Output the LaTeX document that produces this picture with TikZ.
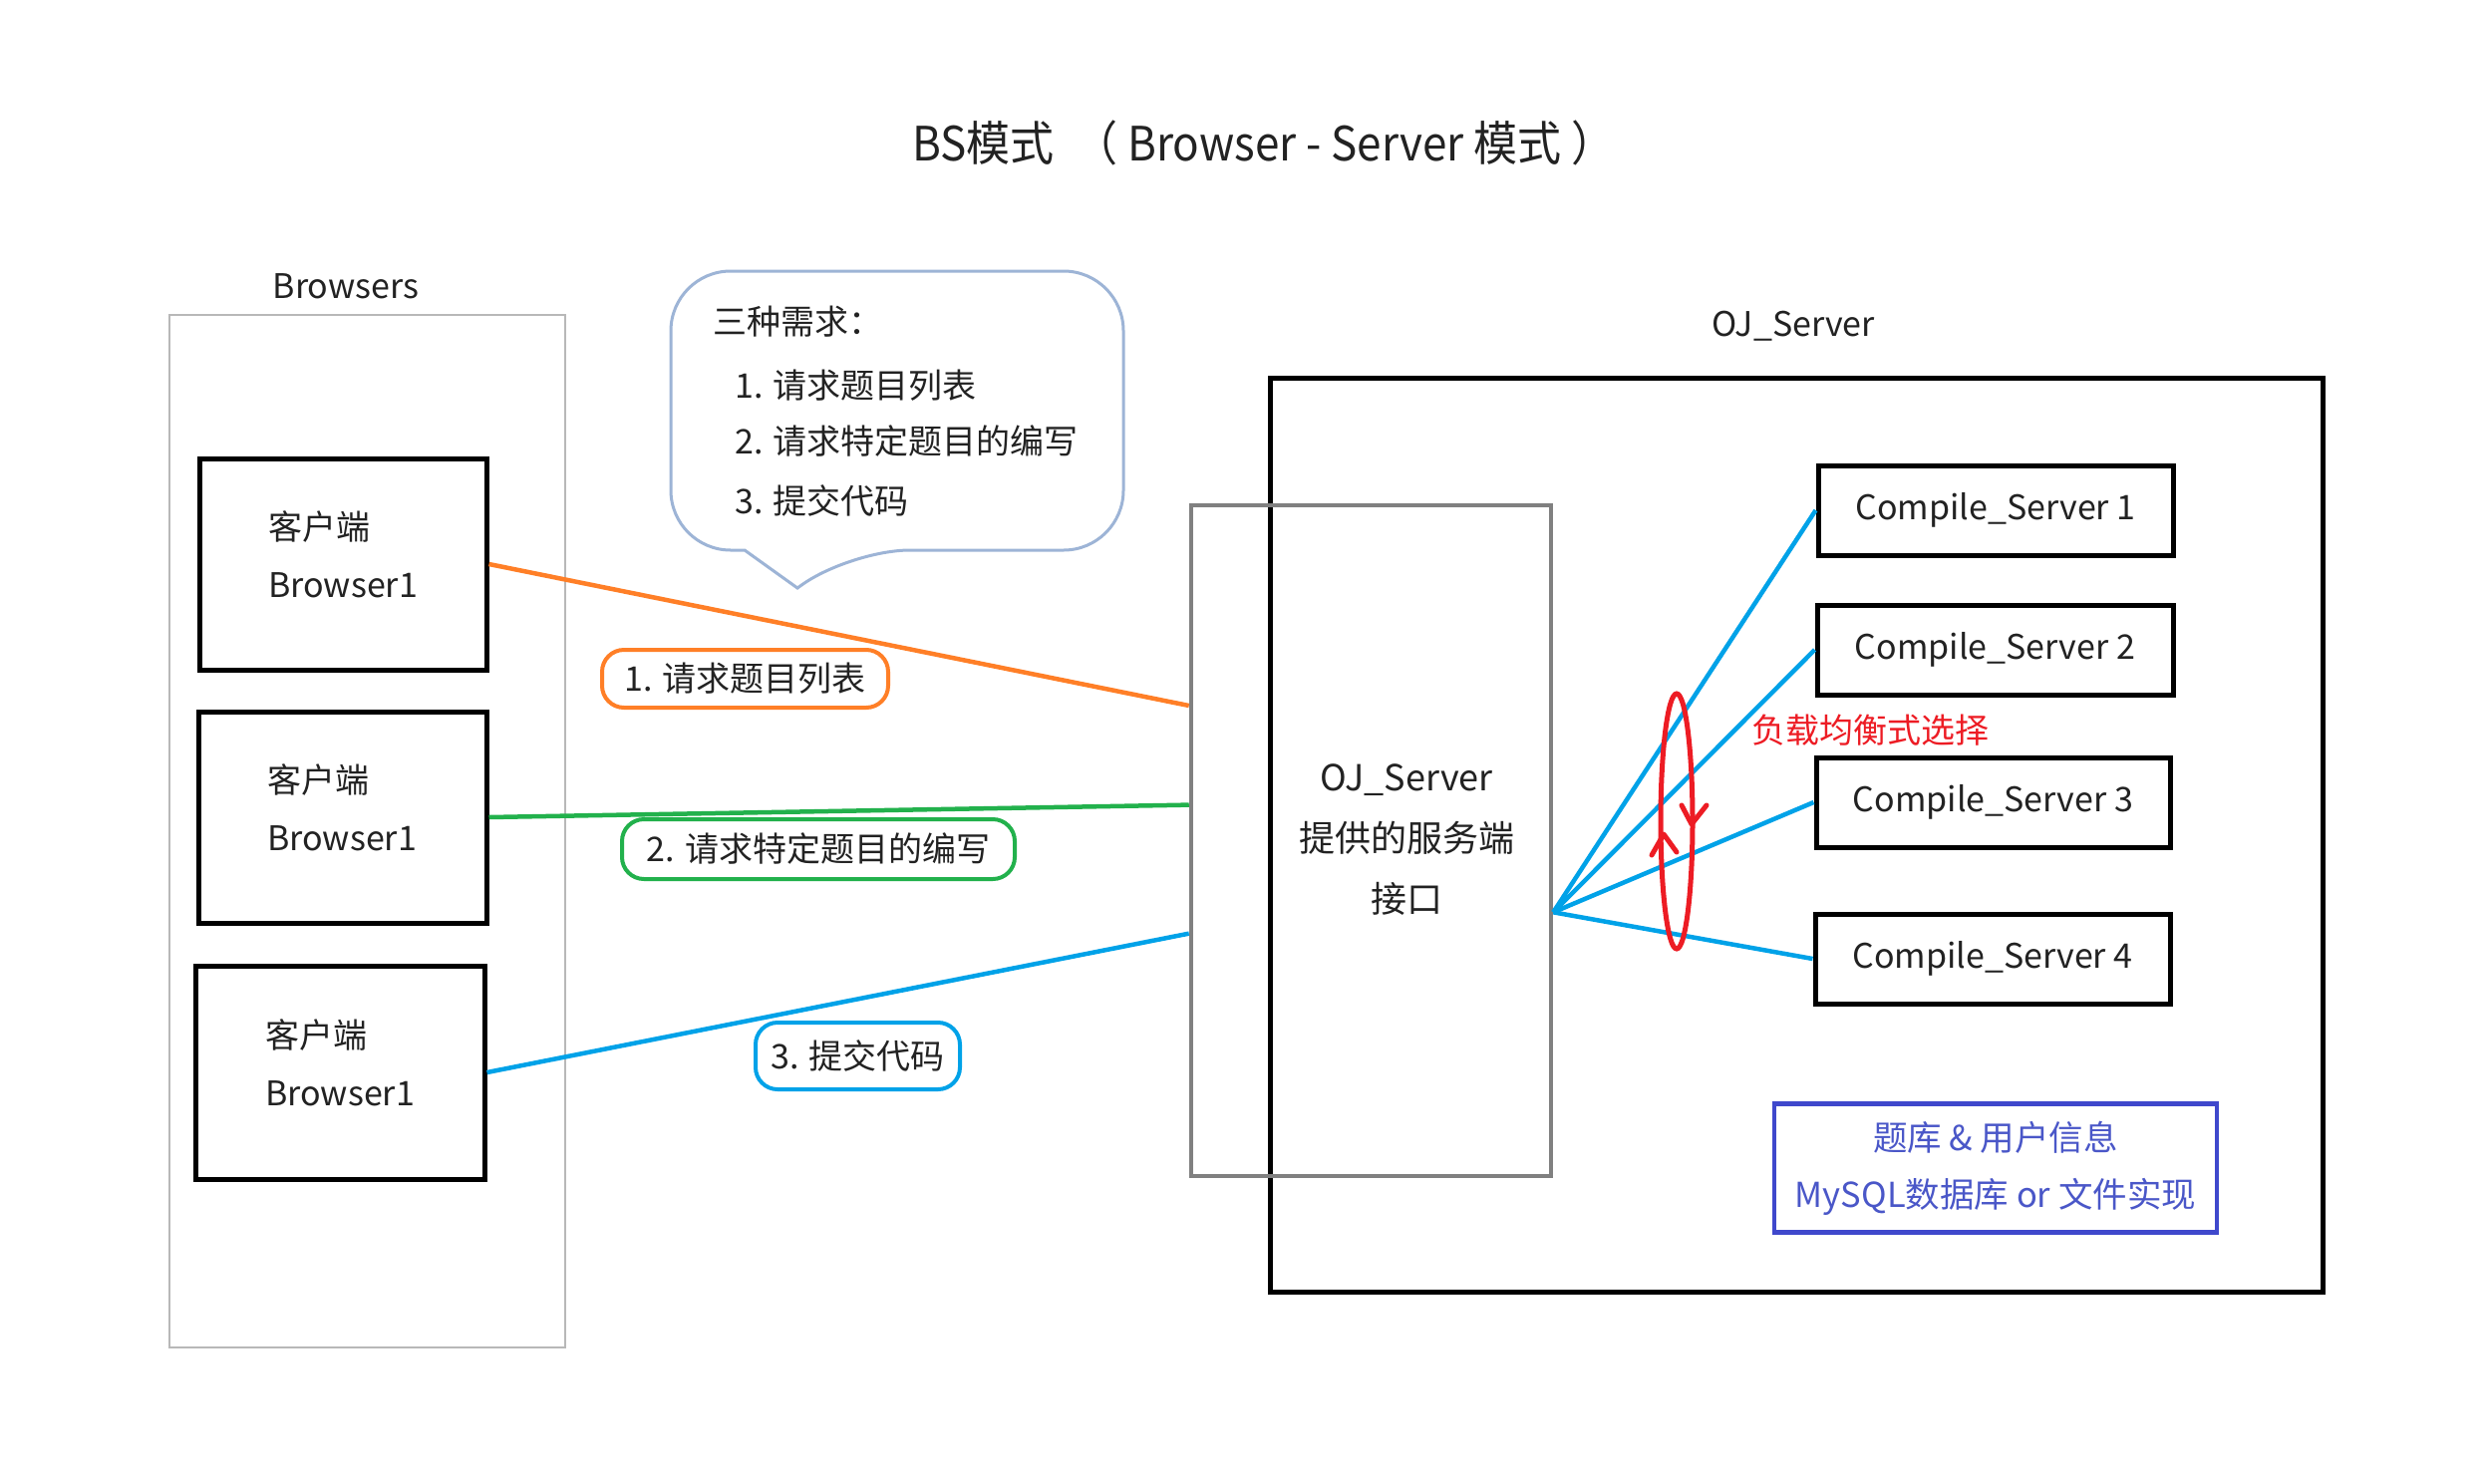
\documentclass[tikz,border=0pt]{standalone}
\usepackage{fontspec}
\setmainfont{Noto Sans CJK SC}
\usetikzlibrary{calc,shapes.geometric}
\definecolor{txtgray}{HTML}{222222}
\definecolor{lorange}{HTML}{FF7F27}
\definecolor{lgreen}{HTML}{22B14C}
\definecolor{lblue}{HTML}{00A2E8}
\definecolor{lred}{HTML}{ED1C24}
\definecolor{dbblue}{HTML}{3F48CC}
\definecolor{dbtext}{HTML}{4A57C8}
\definecolor{bubble}{HTML}{9DB4D6}
\definecolor{ojgray}{HTML}{808080}
\definecolor{brgray}{HTML}{B8B8B8}
\begin{document}
\begin{tikzpicture}[x=1pt,y=-1pt,
  bbox/.style={draw=black, line width=5pt, inner sep=0pt},
  txt/.style={font=\fontsize{34pt}{58pt}\selectfont, text=txtgray, inner sep=0pt},
  lbl/.style={line width=4pt, rounded corners=22pt, inner sep=0pt,
     font=\fontsize{34pt}{40pt}\selectfont, text=txtgray},
  conn/.style={line width=4.5pt}]
\fill[white] (0,0) rectangle (2499,1488);
\useasboundingbox (0,0) rectangle (2499,1488);

% title
\node[font=\fontsize{44pt}{50pt}\selectfont, text=txtgray, inner sep=0pt, yscale=1.08] (title) at (1268,143)
  {BS模式 \ （ Browser - Server 模式 ）};

% browsers group
\node[draw=brgray, line width=2.5pt, minimum width=397pt, minimum height=1036pt, inner sep=0pt] (brs) at (368.5,834) {};
\node[txt] (brslbl) at (347,287) {Browsers};

\node[bbox, minimum width=288pt, minimum height=212pt] (b1) at (344,566) {};
\node[txt, align=left, anchor=west] (b1t) at (269,556) {客户端\\Browser1};
\node[bbox, minimum width=289pt, minimum height=212pt] (b2) at (343.5,820) {};
\node[txt, align=left, anchor=west] (b2t) at (268,810) {客户端\\Browser1};
\node[bbox, minimum width=290pt, minimum height=214pt] (b3) at (341,1076) {};
\node[txt, align=left, anchor=west] (b3t) at (266,1066) {客户端\\Browser1};

% callout bubble
\draw[bubble, line width=3pt] (800,590) -- (747,552) [rounded corners=60pt] -- (673,552) -- (673,272) -- (1127,272) -- (1127,552) -- (853,552) [sharp corners] -- cycle;
\node[txt, anchor=west] (q0) at (715,323) {三种需求：};
\node[txt, anchor=west] (q1) at (737,387) {1. 请求题目列表};
\node[txt, anchor=west] (q2) at (737,443) {2. 请求特定题目的编写};
\node[txt, anchor=west] (q3) at (737,502) {3. 提交代码};

% OJ server
\node[bbox, minimum width=1056pt, minimum height=917pt] (ojout) at (1802,837.5) {};
\node[txt] (ojlbl) at (1799,327) {OJ\_Server};
\node[draw=ojgray, line width=4.5pt, minimum width=361pt, minimum height=673pt, inner sep=0pt] (oj) at (1375.5,843.5) {};
\node[txt, align=center, font=\fontsize{36pt}{61pt}\selectfont] (ojt) at (1411,843) {OJ\_Server\\提供的服务端\\接口};

% compile servers
\node[bbox, minimum width=356pt, minimum height=90pt, txt] (cs1) at (2002,512) {Compile\_Server 1};
\node[bbox, minimum width=357pt, minimum height=90pt, txt] (cs2) at (2001.5,652) {Compile\_Server 2};
\node[bbox, minimum width=355pt, minimum height=90pt, txt] (cs3) at (1999.5,805) {Compile\_Server 3};
\node[bbox, minimum width=356pt, minimum height=90pt, txt] (cs4) at (1999,962) {Compile\_Server 4};

% database
\node[draw=dbblue, line width=4.5pt, minimum width=444pt, minimum height=129pt, inner sep=0pt,
  text=dbtext, align=center, font=\fontsize{34.5pt}{57pt}\selectfont] (db) at (2002,1172)
  {题库 \& 用户信息\\MySQL数据库 or 文件实现};

% request labels
\node[lbl, draw=lorange, minimum width=287pt, minimum height=58pt] (l1) at (747.5,681) {1. 请求题目列表};
\node[lbl, draw=lgreen, minimum width=394pt, minimum height=60pt] (l2) at (821,852) {2. 请求特定题目的编写};
\node[lbl, draw=lblue, minimum width=205pt, minimum height=67pt] (l3) at (860.5,1059.5) {3. 提交代码};

% browser -> oj connectors
\draw[conn, lorange] (b1.east) -- ($(oj.north west)!0.30!(oj.south west)$);
\draw[conn, lgreen] (b2.east) -- ($(oj.north west)!0.447!(oj.south west)$);
\draw[conn, lblue] (b3.east) -- ($(oj.north west)!0.6375!(oj.south west)$);

% fan to compile servers
\coordinate (fan) at ($(oj.north east)!0.606!(oj.south east)$);
\draw[conn, lblue] (fan) -- (cs1.west);
\draw[conn, lblue] (fan) -- (cs2.west);
\draw[conn, lblue] (fan) -- (cs3.west);
\draw[conn, lblue] (fan) -- (cs4.west);

% load balancing loop
\node[draw=lred, line width=5pt, ellipse, minimum width=32pt, minimum height=256pt, inner sep=0pt] (lb) at (1682,824) {};
\draw[lred, line width=5pt, line cap=round, line join=round] (1687,808) -- (1697,827) -- (1712,808);
\draw[lred, line width=5pt, line cap=round, line join=round] (1657,858) -- (1669,837) -- (1682,855);
\node[txt, text=lred] (lbl) at (1876,733) {负载均衡式选择};
\end{tikzpicture}
\end{document}
